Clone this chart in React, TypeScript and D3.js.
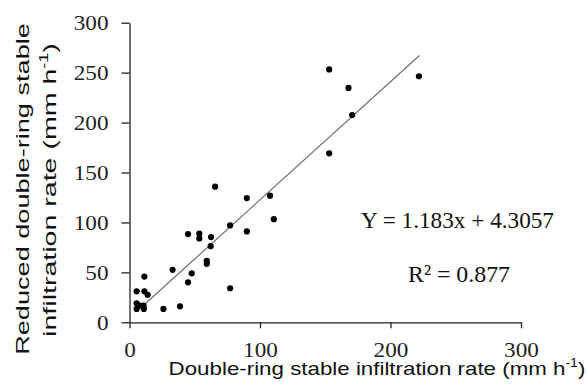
import { useRef, useEffect } from "react";
import * as d3 from "d3";

// reduced double-ring vs double-ring stable infiltration rate (mm h-1)
const xValues = [
  5.5, 11.4, 11.4, 13.9, 5.5, 5.5, 8, 10.8, 11, 26, 33, 38.7, 44.9, 47.7, 44.9, 53.5, 53.5,
  59.2, 59.2, 62.2, 62.5, 65.6, 77.1, 77.1, 89.9, 89.9, 107.7, 110.6, 153, 167.8, 170.6, 153, 221.8,
];
const yValues = [
  31, 31, 45.8, 27.5, 19, 13.4, 16.8, 16.8, 13.4, 13.4, 52.5, 16, 40, 49, 88.3, 88.7, 84,
  61.6, 58.6, 76.2, 85.3, 135.8, 97, 34.1, 124.4, 91, 126.8, 103.3, 253.2, 234.7, 207.6, 169.2, 246.4,
];
const xTicks = [0, 100, 200, 300];
const yTicks = [0, 50, 100, 150, 200, 250, 300];
const slope = 1.183;
const intercept = 4.3057;
const fitRange = [9.5, 222.2];

const W = 587;
const H = 392;

export default function App() {
  const svgRef = useRef(null);

  useEffect(() => {
    const svg = d3.select(svgRef.current);
    svg.selectAll("*").remove();

    const x = d3.scaleLinear().domain([0, 300]).range([129.5, 521]);
    const y = d3.scaleLinear().domain([0, 300]).range([322.3, 22.7]);

    // stretch a text group horizontally so it fills a target width
    const fit = (g, target) => {
      const w = g.node().getBBox().width;
      return w > 0 ? target / w : 1;
    };

    const xAxis = svg.append("g")
      .attr("transform", `translate(0,${y(0)})`)
      .call(d3.axisBottom(x).tickValues(xTicks).tickSize(6).tickSizeOuter(0).tickPadding(14));
    const yAxis = svg.append("g")
      .attr("transform", `translate(${x(0)},0)`)
      .call(d3.axisLeft(y).tickValues(yTicks).tickSize(8).tickSizeOuter(0).tickPadding(13));

    [xAxis, yAxis].forEach((a) => {
      a.attr("font-family", "'Liberation Serif', 'Times New Roman', serif").attr("font-size", 21);
      a.selectAll("path, line").attr("stroke", "#222").attr("stroke-width", 1.3);
      a.selectAll("text")
        .attr("fill", "#222")
        .attr("textLength", (d) => String(d).length * 11.6)
        .attr("lengthAdjust", "spacingAndGlyphs");
    });

    // trend line
    svg.append("line")
      .attr("x1", x(fitRange[0]))
      .attr("y1", y(slope * fitRange[0] + intercept))
      .attr("x2", x(fitRange[1]))
      .attr("y2", y(slope * fitRange[1] + intercept))
      .attr("stroke", "#6e6e6e")
      .attr("stroke-width", 1.2);

    svg.append("g")
      .selectAll("circle")
      .data(xValues.map((v, i) => [v, yValues[i]]))
      .join("circle")
      .attr("cx", (d) => x(d[0]))
      .attr("cy", (d) => y(d[1]))
      .attr("r", 3.1)
      .attr("fill", "#000");

    // equation labels
    const eqFont = "'Liberation Serif', 'Times New Roman', serif";
    const eq = svg.append("g");
    eq.append("text").attr("font-family", eqFont).attr("font-size", 24).attr("fill", "#111")
      .text("Y = 1.183x + 4.3057");
    eq.attr("transform", `translate(361,228) scale(${fit(eq, 193)},1)`);

    const r2 = svg.append("g");
    r2.append("text").attr("font-family", eqFont).attr("font-size", 24).attr("fill", "#111")
      .text("R² = 0.877");
    r2.attr("transform", `translate(408,282) scale(${fit(r2, 102)},1)`);

    // axis titles
    const sans = "'Liberation Sans', Arial, sans-serif";
    const addTitle = (parts) => {
      const g = svg.append("g");
      const t = g.append("text").attr("font-family", sans).attr("font-size", 19)
        .attr("fill", "#111").attr("text-anchor", "middle");
      parts.forEach(([s, sup]) => {
        const ts = t.append("tspan").text(s);
        if (sup) ts.attr("font-size", 12).attr("dy", -8);
        else if (sup === false) ts.attr("dy", 8);
      });
      return g;
    };

    const xTitle = addTitle([["Double-ring stable infiltration  rate (mm h"], ["-1", true], [")", false]]);
    xTitle.attr("transform", `translate(377,375) scale(${fit(xTitle, 417)},1)`);

    const yTitle1 = addTitle([["Reduced double-ring stable"]]);
    yTitle1.attr("transform", `translate(29,189) rotate(-90) scale(${fit(yTitle1, 332)},1)`);

    const yTitle2 = addTitle([["infiltration rate (mm h"], ["-1", true], [")", false]]);
    yTitle2.attr("transform", `translate(56,190) rotate(-90) scale(${fit(yTitle2, 294)},1)`);
  }, []);

  return (
    <svg
      ref={svgRef}
      width={W}
      height={H}
      style={{ position: "absolute", left: 0, top: 0, background: "#fff" }}
    ></svg>
  );
}
